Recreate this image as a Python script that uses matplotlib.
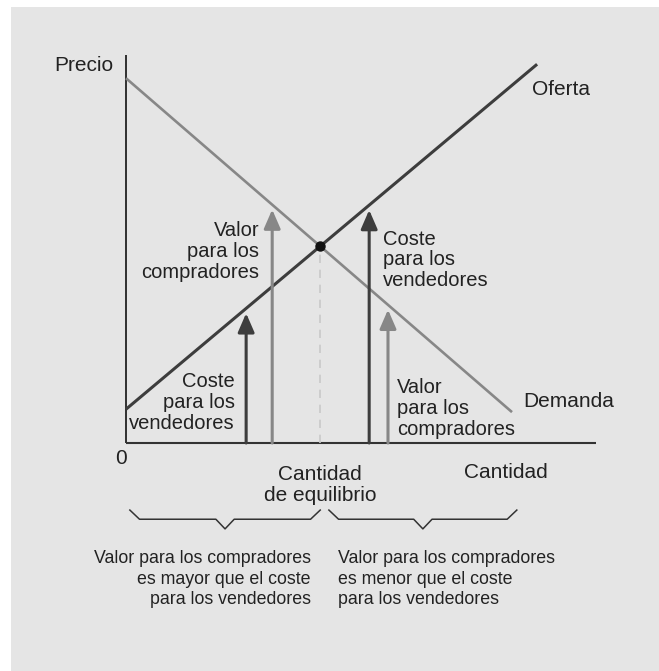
import matplotlib
matplotlib.use("Agg")
import matplotlib.pyplot as plt
from matplotlib import font_manager
from matplotlib.patches import Rectangle

# curves (endpoints, in plot units)
demand_q = [0.0, 8.0]
demand_p = [7.56, 0.64]
supply_q = [0.0, 8.52]
supply_p = [0.70, 7.85]

# quantities where the value / cost arrows stand
cost_arrow_q = [2.49, 5.04]     # reach the supply curve
value_arrow_q = [3.03, 5.43]    # reach the demand curve

q_axis_max = 9.74
p_axis_max = 8.04

DARK = "#3d3d3d"
LIGHT = "#878787"
TXT = "#222222"
BG = "#e5e5e5"


def line_at(qs, ps, q):
    slope = (ps[1] - ps[0]) / (qs[1] - qs[0])
    return ps[0] + slope * (q - qs[0])


# equilibrium = intersection of the two lines
sd = (demand_p[1] - demand_p[0]) / (demand_q[1] - demand_q[0])
ss = (supply_p[1] - supply_p[0]) / (supply_q[1] - supply_q[0])
q_eq = (supply_p[0] - demand_p[0]) / (sd - ss)
p_eq = line_at(demand_q, demand_p, q_eq)


def pick_font(name, fallback):
    try:
        font_manager.findfont(name, fallback_to_default=False)
        return name
    except Exception:
        return fallback


MAIN = pick_font("Liberation Sans", "DejaVu Sans")

# condensed face for the notes under the chart, if one is around
narrow_file = None
for f in font_manager.fontManager.ttflist:
    if "LiberationSansNarrow-Regular" in f.fname:
        narrow_file = f.fname
        break
if narrow_file:
    note_font = dict(fontproperties=font_manager.FontProperties(fname=narrow_file, size=15))
    note_ls = 1.08
else:
    note_font = dict(family=MAIN, fontsize=12.8)
    note_ls = 1.27

fig = plt.figure(figsize=(6.59, 6.71), dpi=100)
fig.patch.set_facecolor("white")

ax = fig.add_axes([0, 0, 1, 1])
ax.set_facecolor("none")
ax.add_patch(Rectangle((11 / 659, 0), 1, 1 - 7 / 671, transform=fig.transFigure,
                       facecolor=BG, edgecolor="none", zorder=-10))
s = 48.25
ax.set_xlim(-126 / s, (659 - 126) / s)
ax.set_ylim(-(671 - 443) / s, 443 / s)
ax.axis("off")

# axes
ax.plot([0, 0], [0, p_axis_max], color="#222222", lw=1.3, solid_capstyle="butt")
ax.plot([0, q_axis_max], [0, 0], color="#333333", lw=1.5, solid_capstyle="butt")

# dashed guide at equilibrium
ax.plot([q_eq, q_eq], [0, p_eq], color="#c9c9c9", lw=1.2, ls=(0, (5, 4)))

# curves
ax.plot(demand_q, demand_p, color=LIGHT, lw=1.9, solid_capstyle="butt")
ax.plot(supply_q, supply_p, color=DARK, lw=2.2, solid_capstyle="butt")
ax.plot([q_eq], [p_eq], "o", color="#111111", ms=6.5, zorder=5)

# arrows
style = "-|>,head_length=1.15,head_width=0.5"
for q in cost_arrow_q:
    tip = line_at(supply_q, supply_p, q) - 0.1
    ax.annotate("", xy=(q, tip), xytext=(q, 0),
                arrowprops=dict(arrowstyle=style, color=DARK, lw=2.2,
                                shrinkA=0, shrinkB=0, mutation_scale=10))
for q in value_arrow_q:
    tip = line_at(demand_q, demand_p, q) - 0.1
    ax.annotate("", xy=(q, tip), xytext=(q, 0),
                arrowprops=dict(arrowstyle=style, color=LIGHT, lw=2.2,
                                shrinkA=0, shrinkB=0, mutation_scale=10))

kw = dict(color=TXT, family=MAIN)
ax.text(-0.27, 7.83, "Precio", ha="right", va="center", fontsize=15, **kw)
ax.text(-0.10, -0.33, "0", ha="center", va="center", fontsize=15, **kw)
# va="baseline" on several lines pins the last line
ax.text(q_eq, -1.20, "Cantidad\nde equilibrio", ha="center", va="baseline",
        fontsize=15, linespacing=1.12, **kw)
ax.text(7.88, -0.725, "Cantidad", ha="center", va="baseline", fontsize=15, **kw)
ax.text(8.41, 7.32, "Oferta", ha="left", va="center", fontsize=15, **kw)
ax.text(8.23, 0.87, "Demanda", ha="left", va="center", fontsize=15, **kw)

lab = dict(fontsize=14.5, linespacing=1.12, va="baseline", **kw)
ax.text(2.76, 3.42, "Valor\npara los\ncompradores", ha="right", multialignment="right", **lab)
ax.text(5.33, 3.25, "Coste\npara los\nvendedores", ha="left", **lab)
ax.text(5.62, 0.17, "Valor\npara los\ncompradores", ha="left", **lab)
ax.text(2.26, 0.29, "Coste\npara los\nvendedores", ha="right", multialignment="right", **lab)


# braces under the quantity axis
def brace(x0, x1, top=-1.39, mid=-1.58, bot=-1.78, end=0.2, half=0.19):
    xm = (x0 + x1) / 2
    xs = [x0, x0 + end, xm - half, xm, xm + half, x1 - end, x1]
    ys = [top, mid, mid, bot, mid, mid, top]
    ax.plot(xs, ys, color="#333333", lw=1.1)


brace(0.08, q_eq)
brace(q_eq + 0.18, 8.10)

ax.text(3.83, -3.34, "Valor para los compradores\nes mayor que el coste\npara los vendedores",
        ha="right", multialignment="right", va="baseline", linespacing=note_ls,
        color=TXT, **note_font)
ax.text(4.39, -3.34, "Valor para los compradores\nes menor que el coste\npara los vendedores",
        ha="left", multialignment="left", va="baseline", linespacing=note_ls,
        color=TXT, **note_font)

fig.savefig("out.png", dpi=100, facecolor=fig.get_facecolor())
